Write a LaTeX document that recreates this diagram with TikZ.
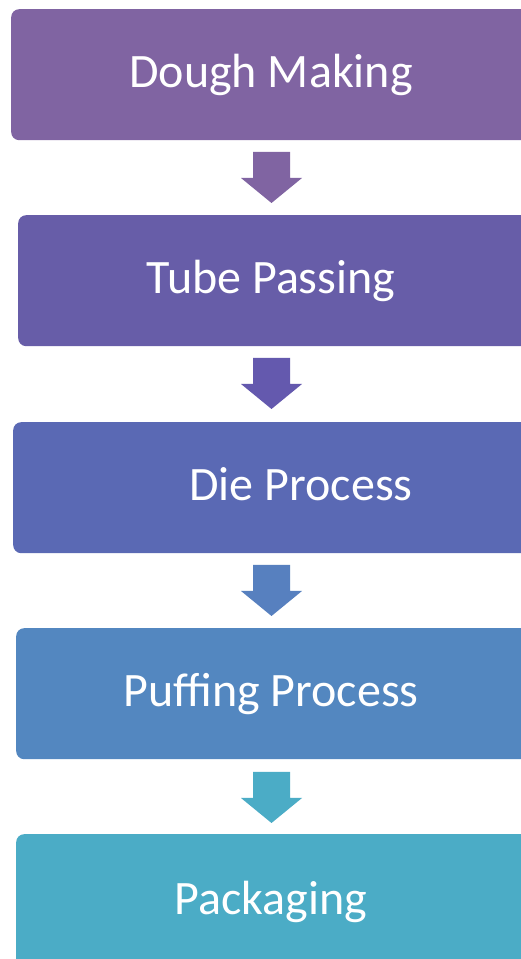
\documentclass[tikz,border=0pt]{standalone}
\usepackage{fontspec}
\setmainfont{Carlito}
\definecolor{cA}{HTML}{8064A2}
\definecolor{cB}{HTML}{675DA8}
\definecolor{cC}{HTML}{5A69B4}
\definecolor{cD}{HTML}{5387C0}
\definecolor{cE}{HTML}{4BACC6}
\definecolor{aB}{HTML}{6459AE}
\definecolor{aC}{HTML}{5780BF}
\tikzset{
  stepbox/.style={draw=none, rounded corners=8pt, anchor=north west, minimum height=131pt, inner sep=0pt},
  steptext/.style={anchor=base, text=white, font=\fontsize{48}{58}\selectfont, inner sep=0pt},
}
\newcommand{\downblock}[2]{%
  \fill[#2] (253,{959-#1}) -- (290,{959-#1}) -- (290,{959-#1-26}) -- (302,{959-#1-26})
    -- (271.5,{959-#1-51}) -- (241,{959-#1-26}) -- (253,{959-#1-26}) -- cycle;}
\begin{document}
\begin{tikzpicture}[x=1pt,y=1pt]
\useasboundingbox (0,0) rectangle (521,959);
\clip (0,0) rectangle (521,959);
\fill[white] (0,0) rectangle (521,959);
\node[stepbox, fill=cA, minimum width=530pt] (b1) at (11,{959-9}) {};
\node[stepbox, fill=cB, minimum width=523pt] (b2) at (18,{959-215}) {};
\node[stepbox, fill=cC, minimum width=528pt] (b3) at (13,{959-422}) {};
\node[stepbox, fill=cD, minimum width=525pt] (b4) at (16,{959-628}) {};
\node[stepbox, fill=cE, minimum width=525pt, minimum height=160pt] (b5) at (16,{959-834}) {};
\node[steptext] (t1) at (271,{959-88}) {Dough Making};
\node[steptext] (t2) at (271,{959-294}) {Tube Passing};
\node[steptext] (t3) at (301,{959-501}) {Die Process};
\node[steptext] (t4) at (271,{959-707}) {Puffing Process};
\node[steptext] (t5) at (271,{959-914}) {Packaging};
\downblock{152}{cA}
\downblock{358}{aB}
\downblock{565}{aC}
\downblock{772}{cE}
\end{tikzpicture}
\end{document}
